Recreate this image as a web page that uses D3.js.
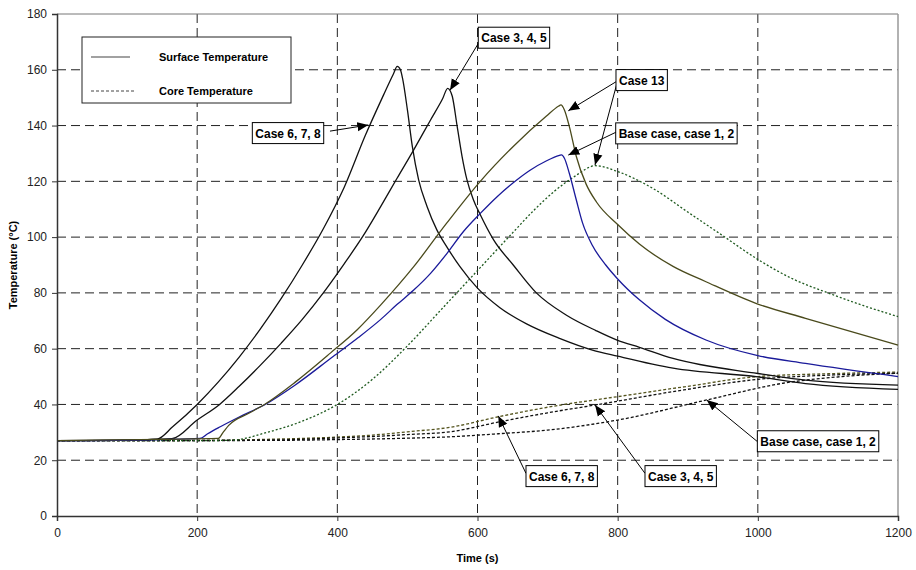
<!DOCTYPE html>
<html>
<head>
<meta charset="utf-8">
<script src="https://cdn.jsdelivr.net/npm/d3@7"></script>
<style>
  body { margin: 0; background: #fff; }
  svg { font-family: Arial, "Liberation Sans", sans-serif; }
</style>
</head>
<body>
<div id="chart"></div>
<script>
// surface temperatures [time s, temp C]
const surface678 = [[0,27],[100,27.2],[143,27.6],[165,32],[200,40],[230,48],[260,57],[290,67],[320,78],[350,90],[380,103],[410,118],[440,136.5],[466,151],[480,158.5],[485.5,161.2],[490,160],[493,157],[500,145.6],[507,132.5],[516,120.5],[528,111],[542,102.6],[556,96.6],[575,89.4],[600,81.7],[632,74.7],[670,68.9],[717,63.7],[764,59.5],[800,57.3],[879,53],[1000,49.9],[1068,47.5],[1200,45.4]];
const surface345 = [[0,27],[120,27.3],[164,27.7],[200,34.4],[232,40],[260,46.5],[290,54],[320,62],[350,70.5],[380,80],[410,90.5],[437,100.5],[462,111],[485,121],[509,131.3],[533,142],[550,149.5],[557.5,153.3],[561,152.5],[564,150.5],[571,139.7],[578,128.9],[585,120.5],[594,113.5],[604,108],[623,99],[651,90],[684,80],[727,72],[769,66.5],[800,63],[831,60.5],[879,56.5],[1000,51.1],[1068,48.7],[1200,46.9]];
const surfaceBase = [[0,27],[150,27.4],[204,27.8],[215,29.5],[233,32],[260,35.5],[297,40],[340,47],[394,57.2],[430,64],[462,70.5],[485,75.8],[509,81],[533,87],[556,94],[580,102],[604,108.5],[628,114.5],[651,119.5],[675,124],[698,127.3],[717,129.3],[720,129.5],[724,128.3],[731,122.9],[741,113.3],[750,105],[764,97],[783,90],[800,85],[831,77.5],[868,70.5],[926,63.1],[1000,57.5],[1068,54.7],[1200,50]];
const surface13 = [[0,27],[150,27.5],[230,27.8],[237,30],[245,32.5],[275,37],[296,40],[340,48],[390,58.4],[428,66.7],[462,75.7],[509,89.4],[556,105],[604,120],[651,132.5],[698,143.3],[716,147],[719,147.4],[724,145.6],[731,139.7],[741,128.9],[755,119],[770,112.5],[800,104.5],[831,97.5],[879,89.5],[926,84],[1000,76],[1068,70.9],[1200,61.3]];

// core temperatures
const core13 = [[0,27],[200,27],[250,27.2],[300,30],[350,34],[400,40],[450,49],[500,61],[550,74.5],[600,88],[650,101.5],[680,109.5],[710,116.5],[740,122],[768,125.6],[800,123.5],[850,117.5],[900,109],[950,100.5],[1000,92],[1050,85],[1100,80],[1150,75.5],[1200,71.5]];
const core678 = [[0,27],[200,27.1],[300,27.5],[400,28.3],[450,29],[500,30.2],[561,31.8],[630,35.6],[700,39],[800,42.8],[900,46.5],[1000,50],[1100,51],[1200,51.6]];
const core345 = [[0,27],[250,27.1],[350,27.5],[400,28],[450,28.5],[500,29.2],[561,30.2],[632,33.8],[700,37],[768,39.8],[894,45.2],[1000,49],[1100,50.5],[1200,51.2]];
const coreBase = [[0,27],[300,27.1],[400,27.4],[500,27.9],[561,28.4],[630,29.5],[700,30.8],[800,34.4],[927,41.6],[1036,47.6],[1120,50],[1200,51.2]];

const xTicks = [0, 200, 400, 600, 800, 1000, 1200];
const yTicks = [0, 20, 40, 60, 80, 100, 120, 140, 160, 180];

const series = [
  { data: core678, color: "#55551f", dash: "3,2" },
  { data: core345, color: "#111", dash: "3,2" },
  { data: coreBase, color: "#111", dash: "3,2" },
  { data: core13, color: "#1f5a1f", dash: "2,2" },
  { data: surface678, color: "#111", dash: null },
  { data: surface345, color: "#111", dash: null },
  { data: surfaceBase, color: "#1a1a9a", dash: null },
  { data: surface13, color: "#4a4a1c", dash: null }
];

// label, box left (s), box centre (C), arrows [from, to] in data units
const notes = [
  { text: "Case 6, 7, 8", x: 278.7, y: 137.3, arrows: [[[389.5, 138], [444.2, 140.2]]] },
  { text: "Case 3, 4, 5", x: 601.1, y: 171.5, arrows: [[[601.1, 169.4], [560.8, 152.7]]] },
  { text: "Case 13", x: 797.6, y: 156.3, arrows: [[[798.3, 155.8], [729.6, 145.3]], [[798.3, 154.5], [767.7, 125.9]]] },
  { text: "Base case, case 1, 2", x: 797.2, y: 137.2, arrows: [[[798.3, 137.7], [729.6, 129.4]]] },
  { text: "Base case, case 1, 2", x: 999.3, y: 26.8, arrows: [[[999.3, 26.7], [927.1, 41.6]]] },
  { text: "Case 6, 7, 8", x: 669.2, y: 14.3, arrows: [[[669.2, 15.3], [629.7, 35.9]]] },
  { text: "Case 3, 4, 5", x: 839, y: 14.3, arrows: [[[839, 15.3], [767.7, 39.8]]] }
];

const W = 916, H = 570;
const margin = { top: 14, right: 18, bottom: 54, left: 57 };
const width = W - margin.left - margin.right;
const height = H - margin.top - margin.bottom;

const svg = d3.select("#chart").append("svg").attr("width", W).attr("height", H);

svg.append("defs").append("marker")
  .attr("id", "arrow")
  .attr("viewBox", "0 0 10 10")
  .attr("refX", 10).attr("refY", 5)
  .attr("markerWidth", 11).attr("markerHeight", 11)
  .attr("markerUnits", "userSpaceOnUse")
  .attr("orient", "auto")
  .append("path").attr("d", "M0,0.8 L10,5 L0,9.2 Z").attr("fill", "#000");

const g = svg.append("g").attr("transform", `translate(${margin.left},${margin.top})`);

const x = d3.scaleLinear().domain([0, 1200]).range([0, width]);
const y = d3.scaleLinear().domain([0, 180]).range([height, 0]);

// grid
g.append("g").selectAll("line").data(yTicks.filter(d => d > 0 && d < 180)).enter().append("line")
  .attr("x1", 0).attr("x2", width).attr("y1", d => y(d)).attr("y2", d => y(d))
  .attr("stroke", "#222").attr("stroke-dasharray", "9,5");
g.append("g").selectAll("line").data(xTicks.filter(d => d > 0 && d < 1200)).enter().append("line")
  .attr("y1", 0).attr("y2", height).attr("x1", d => x(d)).attr("x2", d => x(d))
  .attr("stroke", "#222").attr("stroke-dasharray", "9,5");

// top and right frame
g.append("line").attr("x1", 0).attr("x2", width).attr("y1", 0).attr("y2", 0).attr("stroke", "#777");
g.append("line").attr("x1", width).attr("x2", width).attr("y1", 0).attr("y2", height)
  .attr("stroke", "#999").attr("stroke-width", 1.5);

// curves
const line = d3.line().x(d => x(d[0])).y(d => y(d[1])).curve(d3.curveMonotoneX);
g.selectAll(".curve").data(series).enter().append("path")
  .attr("class", "curve")
  .attr("d", d => line(d.data))
  .attr("fill", "none")
  .attr("stroke", d => d.color)
  .attr("stroke-width", 1.3)
  .attr("stroke-dasharray", d => d.dash);

// axes
const xAxis = g.append("g").attr("transform", `translate(0,${height})`)
  .call(d3.axisBottom(x).tickValues(xTicks).tickFormat(d3.format("d")).tickSize(5).tickPadding(7));
const yAxis = g.append("g")
  .call(d3.axisLeft(y).tickValues(yTicks).tickFormat(d3.format("d")).tickSize(5).tickPadding(5));
[xAxis, yAxis].forEach(a => {
  a.select(".domain").attr("stroke", "#333").attr("stroke-width", 1.5);
  a.selectAll(".tick line").attr("stroke", "#333");
  a.selectAll(".tick text").attr("font-size", 12).attr("fill", "#222")
    .attr("font-family", "Arial, 'Liberation Sans', sans-serif");
});

svg.append("text").attr("x", margin.left + width / 2).attr("y", 562)
  .attr("text-anchor", "middle").attr("font-size", 11).attr("font-weight", "bold").text("Time (s)");
svg.append("text").attr("transform", `translate(17,${margin.top + height / 2}) rotate(-90)`)
  .attr("text-anchor", "middle").attr("font-size", 11).attr("font-weight", "bold").text("Temperature (°C)");

// legend
const lg = g.append("g").attr("transform", "translate(25,23)");
lg.append("rect").attr("width", 209).attr("height", 66).attr("fill", "#fff").attr("stroke", "#222");
lg.append("line").attr("x1", 9).attr("x2", 48).attr("y1", 20).attr("y2", 20).attr("stroke", "#444").attr("stroke-width", 1.2);
lg.append("line").attr("x1", 9).attr("x2", 53).attr("y1", 54).attr("y2", 54).attr("stroke", "#444").attr("stroke-dasharray", "3,2");
lg.append("text").attr("x", 77).attr("y", 24).attr("font-size", 11).attr("font-weight", "bold").text("Surface Temperature");
lg.append("text").attr("x", 77).attr("y", 58).attr("font-size", 11).attr("font-weight", "bold").text("Core Temperature");

// annotations
notes.forEach(n => {
  n.arrows.forEach(([a, b]) => {
    g.append("line")
      .attr("x1", x(a[0])).attr("y1", y(a[1])).attr("x2", x(b[0])).attr("y2", y(b[1]))
      .attr("stroke", "#000").attr("stroke-width", 1).attr("marker-end", "url(#arrow)");
  });
  const ng = g.append("g").attr("transform", `translate(${x(n.x)},${y(n.y)})`);
  const rect = ng.append("rect").attr("y", -10.5).attr("height", 21).attr("fill", "#fff").attr("stroke", "#000");
  const t = ng.append("text").attr("x", 3).attr("y", 4.5).attr("font-size", 12).attr("font-weight", "bold").text(n.text);
  rect.attr("width", t.node().getComputedTextLength() + 6);
});
</script>
</body>
</html>
